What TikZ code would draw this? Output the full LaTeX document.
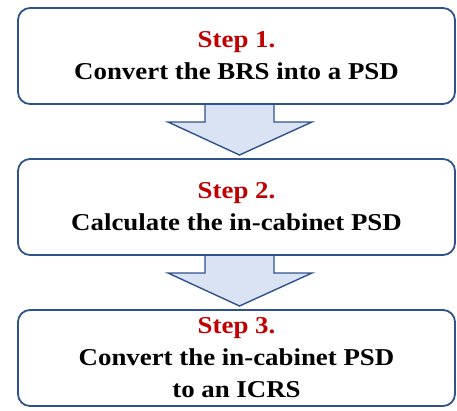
\documentclass[tikz,border=0pt]{standalone}
\usepackage{fontspec}
\setmainfont{Liberation Serif}[FakeStretch=1.11]
\usetikzlibrary{positioning,calc,backgrounds}

\definecolor{boxblue}{HTML}{2F528F}
\definecolor{arrowfill}{HTML}{DAE3F3}
\definecolor{stepred}{HTML}{C00000}

\tikzstyle{stepbox} = [rectangle, rounded corners=12pt, minimum width=437pt,
minimum height=96pt, text centered, align=center, draw=boxblue, line width=1.8pt,
outer sep=0pt, font=\fontsize{24.2}{32}\selectfont\bfseries]
\tikzstyle{blockarrow} = [draw=boxblue, fill=arrowfill, line width=1.4pt, line join=miter]
\newcommand{\steplabel}[1]{\textcolor{stepred}{#1}}

\begin{document}
\begin{tikzpicture}
    \useasboundingbox (0,0) rectangle (457pt,-410pt);
    % Step blocks
    \node (step1) [stepbox] at (236.5pt,-56pt) {\steplabel{Step 1.}\\Convert the BRS into a PSD};
    \node (step2) [stepbox, below=55pt of step1] {\steplabel{Step 2.}\\Calculate the in-cabinet PSD};
    \node (step3) [stepbox, below=55pt of step2] {\steplabel{Step 3.}\\Convert the in-cabinet PSD\\to an ICRS};
    % Block arrows
    \begin{scope}[on background layer]
    \foreach \a/\b in {step1/step2, step2/step3}
        \filldraw [blockarrow] ($(\a.south)+(-31.5pt,0)$) -- ++(0,-18pt) -- ++(-37pt,0)
            -- ($(\b.north)+(3pt,4pt)$) -- ($(\a.south)+(75.5pt,-18pt)$)
            -- ++(-38pt,0) -- ++(0,18pt);
    \end{scope}
\end{tikzpicture}
\end{document}
